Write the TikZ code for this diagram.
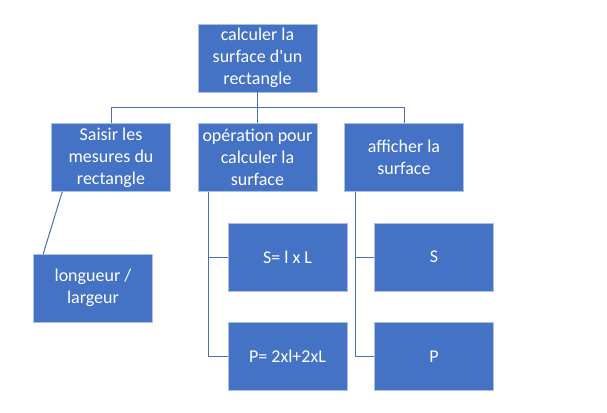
\documentclass[tikz,border=0pt]{standalone}
\usepackage{fontspec}
\setmainfont{Carlito}
\usepackage{tikz}
\usetikzlibrary{positioning}
\definecolor{boxblue}{HTML}{4472C4}
\definecolor{lineblue}{HTML}{4A6FB5}

\begin{document}
\begin{tikzpicture}[
task/.style={rectangle, draw=white!55!boxblue, line width=0.5pt, fill=boxblue, text=white, minimum width=119pt, minimum height=68pt, inner sep=2pt, align=center, font=\fontsize{18}{22}\selectfont},
link/.style={draw=lineblue, line width=1pt}
]
\useasboundingbox (0,0) rectangle (607pt,-412pt);
\node (surface) [task] at (257.5pt,-58pt) {calculer la\\surface d\textquotesingle un\\rectangle};
\node (operation) [task, below=31pt of surface] {opération pour\\calculer la\\surface};
\node (saisir) [task, left=27pt of operation] {Saisir les\\mesures du\\rectangle};
\node (afficher) [task, right=27pt of operation] {afficher la\\surface};
\node (mesures) [task, below=62pt of saisir, xshift=-18pt] {longueur /\\largeur};
\node (formuleS) [task, below=31pt of operation, xshift=30pt] {S= l x L};
\node (formuleP) [task, below=31pt of formuleS] {P= 2xl+2xL};
\node (afficheS) [task, below=31pt of afficher, xshift=30pt] {S};
\node (afficheP) [task, below=31pt of afficheS] {P};

\draw [link] (surface.south) -- (operation.north);
\draw [link] (surface.south) -- ++(0,-15.5pt) -| (saisir.north);
\draw [link] (surface.south) -- ++(0,-15.5pt) -| (afficher.north);
\draw [link] ([xshift=11pt]saisir.south west) -- ([xshift=10pt]mesures.north west);
\draw [link] ([xshift=11pt]operation.south west) |- (formuleS.west);
\draw [link] ([xshift=11pt]operation.south west) |- (formuleP.west);
\draw [link] ([xshift=11pt]afficher.south west) |- (afficheS.west);
\draw [link] ([xshift=11pt]afficher.south west) |- (afficheP.west);
\end{tikzpicture}
\end{document}
